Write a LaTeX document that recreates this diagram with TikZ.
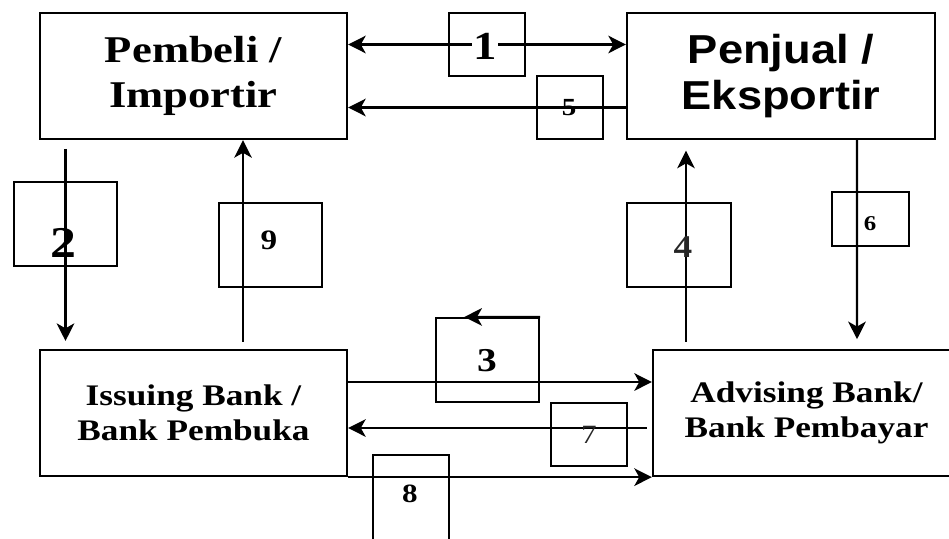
\documentclass[tikz,border=0pt]{standalone}
\usepackage{fontspec}
\newfontfamily\boxserif[FakeStretch=1.18]{Liberation Serif}
\newfontfamily\boxsans[FakeStretch=1.12]{Liberation Sans}
\usetikzlibrary{arrows.meta,calc}

\begin{document}
\begin{tikzpicture}[x=0.02cm, y=-0.02cm,
    >={Stealth[length=10pt, width=10pt, inset=2.8pt]},
    party/.style={draw, line width=1.3pt, minimum width=6.14cm, minimum height=2.52cm,
                  align=center, inner sep=0pt},
    numbox/.style={draw, line width=1.2pt, inner sep=0pt},
    numlbl/.style={inner sep=1pt},
    flow/.style={line width=1.3pt},
]
\clip (0,0) rectangle (949,538);
\fill[white] (0,0) rectangle (949,538);

% Parties
\node[party, font={\boxserif\bfseries\fontsize{21.5}{26}\selectfont}] (pemb) at (193.5,76) {Pembeli /\\Importir};
\node[party, minimum width=6.16cm, font={\boxsans\bfseries\fontsize{23}{26.6}\selectfont}] (penj) at (781,76) {Penjual /\\Eksportir};
\node[party, font={\boxserif\bfseries\fontsize{17}{20}\selectfont}] (issu) at (193.5,413) {Issuing Bank /\\Bank Pembuka};
\node[party, font={\boxserif\bfseries\fontsize{17}{20}\selectfont}] (advi) at (806.5,413) {Advising Bank/\\Bank Pembayar};

% Step boxes
\foreach \n/\x/\y/\w/\h in {1/487/44.5/76/63, 2/65.5/224/103/84, 3/487.5/360/103/84,
                            4/679/245/104/84, 5/570/107.5/66/63, 6/870.5/219/77/54,
                            7/589/434.5/76/63, 8/411/505/76/100, 9/270.5/245/103/84} {
    \node[numbox, minimum width=\w*0.02cm, minimum height=\h*0.02cm] (b\n) at (\x,\y) {};
}

% Flows
\draw[flow, <->] (pemb.east |- b1) -- (penj.west |- b1);
\draw[flow, ->] (penj.west |- b5) -- (pemb.east |- b5);
\draw[flow, ->, shorten <=5pt, shorten >=4.5pt] (b2 |- pemb.south) -- (b2 |- issu.north);
\draw[flow, ->, shorten <=4pt] ($(issu.north)+(49.5,0)$) -- ($(pemb.south)+(49.5,0)$);
\draw[flow, ->, shorten <=4pt, shorten >=6pt] ($(advi.north)+(-120.5,0)$) -- ($(penj.south)+(-95,0)$);
\draw[flow, ->, shorten >=5.5pt] ($(penj.south)+(76,0)$) -- ($(advi.north)+(50.5,0)$);
\draw[flow, ->] ($(issu.east)+(0,-31)$) -- ($(advi.west)+(0,-31)$);
\draw[flow, ->, shorten <=3pt] ($(advi.west)+(0,15)$) -- ($(issu.east)+(0,15)$);
\draw[flow, ->] (issu.south east) -- (advi.south west);
\draw[flow, ->] (b3.north east) -- ($(b3.north west)!0.28!(b3.north east)$);

% Step numbers
\node[numlbl, fill=white, font={\boxserif\bfseries\fontsize{22.6}{24}\selectfont}] (n1) at (485,46) {1};
\foreach \n/\x/\y/\s in {2/63/243/25, 3/487/361/19, 5/569/108/14,
                         6/870/224/12, 8/410/494/15, 9/269/240/16} {
    \node[numlbl, font={\boxserif\bfseries\fontsize{\s}{\s}\selectfont}] (n\n) at (\x,\y) {\n};
}
\node[numlbl, text=black!85, font={\boxserif\bfseries\fontsize{18}{18}\selectfont}] (n4) at (683,247) {4};
\node[numlbl, text=black!85, font={\boxserif\fontsize{15}{15}\selectfont}] (n7) at (589,435) {7};

\end{tikzpicture}
\end{document}
